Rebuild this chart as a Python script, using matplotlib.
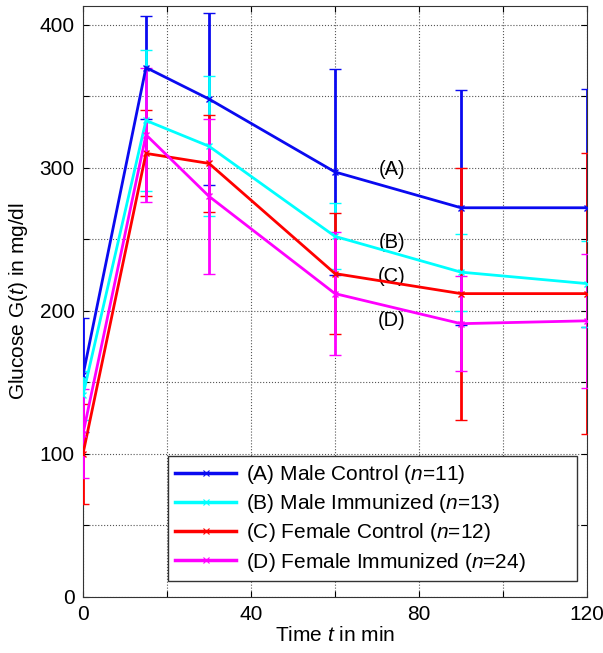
import matplotlib
matplotlib.use("Agg")
import matplotlib.pyplot as plt
from matplotlib.lines import Line2D
from matplotlib.ticker import MultipleLocator, FuncFormatter

plt.rcParams["font.family"] = ["Liberation Sans", "DejaVu Sans"]
plt.rcParams["mathtext.fontset"] = "custom"
plt.rcParams["mathtext.rm"] = "Liberation Sans"
plt.rcParams["mathtext.it"] = "Liberation Sans:italic"

# Sampling times (min)
time_min = [0, 15, 30, 60, 90, 120]

# Mean glucose (mg/dl) and error bar half-widths for each group
male_control = [155, 370, 348, 297, 272, 272]
male_control_err = [40, 36, 60, 72, 82, 83]

male_immunized = [141, 333, 315, 252, 227, 219]
male_immunized_err = [17, 49, 49, 23, 27, 30]

female_control = [100, 310, 303, 226, 212, 212]
female_control_err = [35, 30, 34, 42, 88, 98]

female_immunized = [114, 323, 280, 212, 191, 193]
female_immunized_err = [31, 47, 54, 43, 33, 47]

labels = [
    "(A) Male Control ($n$=11)",
    "(B) Male Immunized ($n$=13)",
    "(C) Female Control ($n$=12)",
    "(D) Female Immunized ($n$=24)",
]
tags = ["(A)", "(B)", "(C)", "(D)"]
tag_x = [73.5, 73.5, 73.5, 73.5]
tag_y = [299, 248, 224, 193]
colors = ["#0a0af0", "#00ffff", "#ff0000", "#ff00ff"]


def main():
    fig = plt.figure(figsize=(6.03, 6.53), dpi=100)
    ax = fig.add_axes([0.1376, 0.0858, 0.8359, 0.905])

    series = [
        (male_control, male_control_err),
        (male_immunized, male_immunized_err),
        (female_control, female_control_err),
        (female_immunized, female_immunized_err),
    ]
    handles = []
    for (vals, errs), color, label in zip(series, colors, labels):
        ax.errorbar(time_min, vals, yerr=errs, color=color, lw=2,
                    elinewidth=2, capsize=4, capthick=2, marker="x",
                    markersize=4, markeredgewidth=1, zorder=3)
        handles.append(Line2D([], [], color=color, lw=2.5, marker="x",
                              markersize=4, markeredgewidth=0.8,
                              label=label))

    for tag, tx, ty in zip(tags, tag_x, tag_y):
        ax.text(tx, ty, tag, fontsize=14.5, ha="center", va="center")

    ax.set_xlim(0, 120)
    ax.set_ylim(0, 413)
    ax.xaxis.set_major_locator(MultipleLocator(20))
    ax.yaxis.set_major_locator(MultipleLocator(50))
    ax.xaxis.set_major_formatter(
        FuncFormatter(lambda v, p: f"{v:.0f}" if v % 40 == 0 else ""))
    ax.yaxis.set_major_formatter(
        FuncFormatter(lambda v, p: f"{v:.0f}" if v % 100 == 0 else ""))
    ax.tick_params(direction="in", top=True, right=True, length=4,
                   labelsize=15, pad=6)
    ax.grid(True, color="#555555", linestyle=":", linewidth=0.8)
    ax.set_axisbelow(True)
    for s in ax.spines.values():
        s.set_color("#333333")

    ax.set_xlabel("Time $t$ in min", fontsize=15, labelpad=1)
    ax.set_ylabel("Glucose G($t$) in mg/dl", fontsize=15, labelpad=7)

    leg = ax.legend(handles=handles, loc="lower left", mode="expand",
                    bbox_to_anchor=(0.1687, 0.027, 0.8115, 0.2),
                    borderaxespad=0,
                    fontsize=15, fancybox=False, framealpha=1,
                    edgecolor="#333333", handlelength=2.9,
                    borderpad=0.35, labelspacing=0.3, handletextpad=0.5)
    leg.get_frame().set_linewidth(1)

    fig.savefig("out.png", dpi=100)


if __name__ == "__main__":
    main()
